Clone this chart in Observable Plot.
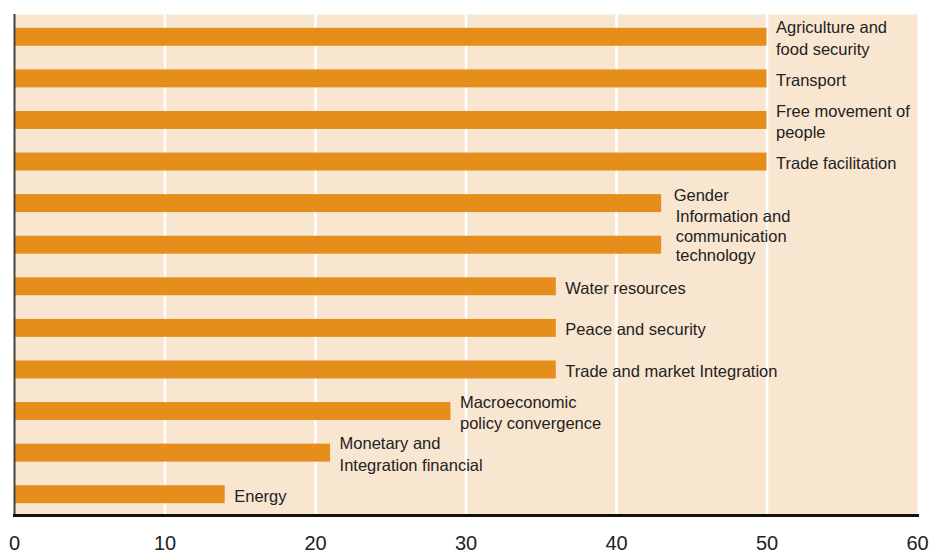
<!DOCTYPE html>
<html>
<head>
<meta charset="utf-8">
<script src="https://cdn.jsdelivr.net/npm/d3@7"></script>
<script src="https://cdn.jsdelivr.net/npm/@observablehq/plot@0.6"></script>
<style>
  html, body { margin: 0; padding: 0; background: #fff; }
</style>
</head>
<body>
<div id="chart"></div>
<script>
const categories = [
  "Agriculture and food security",
  "Transport",
  "Free movement of people",
  "Trade facilitation",
  "Gender",
  "Information and communication technology",
  "Water resources",
  "Peace and security",
  "Trade and market Integration",
  "Macroeconomic policy convergence",
  "Monetary and Integration financial",
  "Energy"
];
const values = [50, 50, 50, 50, 43, 43, 36, 36, 36, 29, 21, 14];
const labels = [
  "Agriculture and\nfood security",
  "Transport",
  "Free movement of\npeople",
  "Trade facilitation",
  "Gender",
  "Information and\ncommunication\ntechnology",
  "Water resources",
  "Peace and security",
  "Trade and market Integration",
  "Macroeconomic\npolicy convergence",
  "Monetary and\nIntegration financial",
  "Energy"
];
const xTicks = [0, 10, 20, 30, 40, 50, 60];
const gridTicks = [10, 20, 30, 40, 50];

const data = categories.map((c, i) => ({category: c, value: values[i], label: labels[i]}));
const shifted = new Set(["Gender", "Information and communication technology"]);

const chart = Plot.plot({
  width: 930,
  height: 552,
  marginLeft: 14,
  marginRight: 13,
  marginTop: 16,
  marginBottom: 37,
  style: {fontFamily: "'Liberation Sans', Arial, sans-serif", background: "#fff", overflow: "visible"},
  x: {domain: [0, 60], axis: null, label: null},
  y: {domain: categories, padding: 0, round: false, axis: null},
  marks: [
    Plot.frame({fill: "#f9e6d0", stroke: "none", insetTop: -2}),
    Plot.ruleX(gridTicks, {stroke: "#fff", strokeWidth: 2.5, insetTop: -2}),
    Plot.barX(data, {x: "value", y: "category", fill: "#e58e1b", insetTop: 11.8, insetBottom: 11.8}),
    Plot.text(data.filter(d => !shifted.has(d.category)), {
      x: "value", y: "category", text: "label", textAnchor: "start",
      dx: 9, fontSize: 16.5, lineHeight: 1.3, fill: "#222"
    }),
    Plot.text(data.filter(d => d.category === "Gender"), {
      x: "value", y: "category", text: "label", textAnchor: "start",
      dx: 12, dy: -8, fontSize: 16.5, fill: "#222"
    }),
    Plot.text(data.filter(d => d.category === "Information and communication technology"), {
      x: "value", y: "category", text: "label", textAnchor: "start",
      dx: 14, dy: -10, fontSize: 16.5, lineHeight: 1.2, fill: "#222"
    }),
    Plot.ruleX([0], {stroke: "#444", strokeWidth: 2, insetTop: -2}),
    Plot.frame({anchor: "bottom", stroke: "#111", strokeWidth: 3}),
    Plot.axisX({ticks: xTicks, tickSize: 0, tickPadding: 20, fontSize: 20, tickFormat: d => d, fill: "#222", label: null})
  ]
});
document.getElementById("chart").appendChild(chart);
</script>
</body>
</html>
